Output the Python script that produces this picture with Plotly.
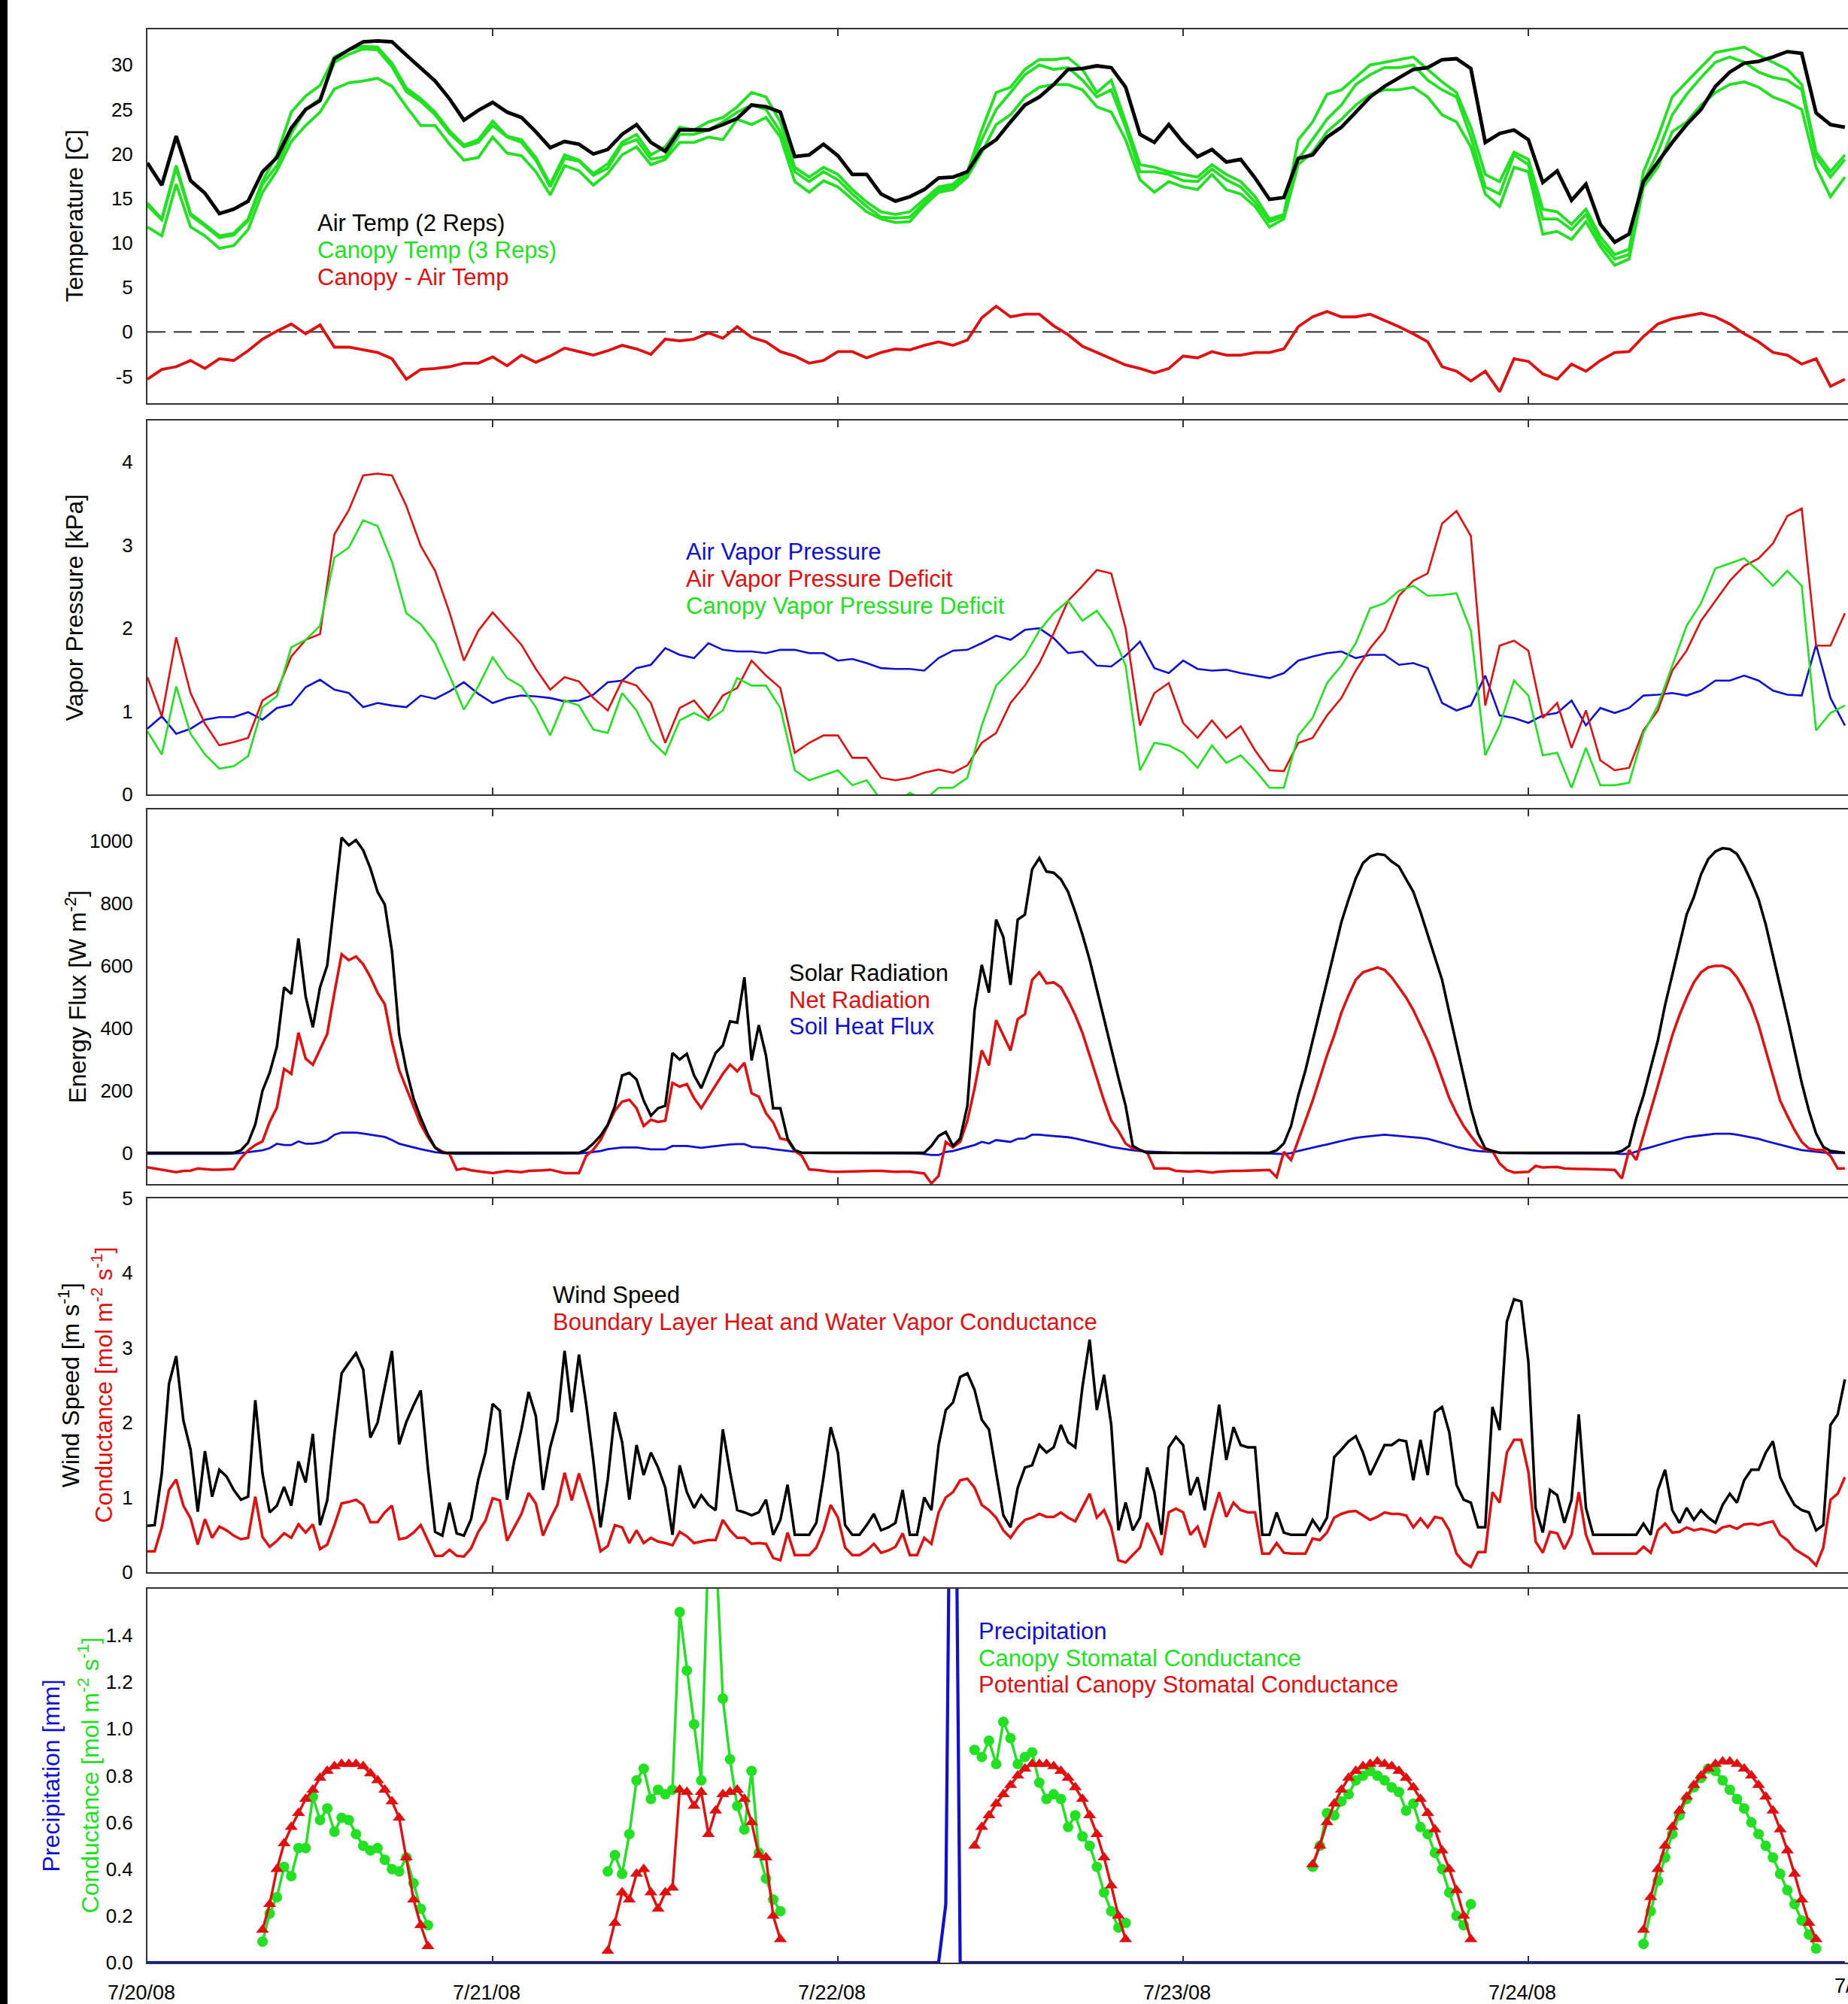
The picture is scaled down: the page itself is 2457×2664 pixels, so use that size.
import pandas as pd
import plotly.graph_objects as go

# ---------------------------------------------------------------- time axis
T0 = "2008-07-20 00:00"
T_END = "2008-07-24 22:13"
day_ticks = ["2008-07-20", "2008-07-21", "2008-07-22", "2008-07-23", "2008-07-24"]
day_labels = ["7/20/08", "7/21/08", "7/22/08", "7/23/08", "7/24/08"]
next_day_label = "7/25/08"

# ---------------------------------------------------------------- panel 1: temperature [C], hourly
air_temp = [
    19.0, 16.5, 22.0, 17.0, 15.6, 13.3, 13.8, 14.7, 18.0, 19.6,
    22.9, 25.0, 26.0, 30.7, 31.7, 32.6, 32.7, 32.6, 31.1, 29.7,
    28.2, 26.2, 23.8, 24.9, 25.8, 24.7, 24.1, 22.5, 20.7, 21.4,
    21.1, 20.0, 20.5, 22.2, 23.3, 21.3, 20.3, 22.7, 22.7, 22.7,
    23.3, 24.0, 25.5, 25.3, 24.7, 19.7, 19.9, 21.1, 19.8, 17.7,
    17.7, 15.5, 14.7, 15.2, 16.0, 17.3, 17.4, 18.0, 20.5, 21.6,
    23.6, 25.5, 26.4, 27.8, 29.5, 29.6, 29.9, 29.7, 27.5, 22.2,
    21.3, 23.3, 21.3, 19.7, 20.5, 19.1, 19.4, 17.3, 14.9, 15.1,
    19.5, 19.9, 21.9, 23.0, 24.7, 26.4, 27.6, 28.6, 29.5, 29.7,
    30.6, 30.7, 29.6, 21.3, 22.3, 22.7, 21.6, 16.8, 18.1, 14.8,
    16.6, 12.1, 10.1, 11.0, 16.9, 19.1, 21.3, 23.3, 25.0, 27.6,
    29.2, 30.2, 30.4, 30.9, 31.5, 31.3, 24.6, 23.3, 23.0]
canopy_temp_1 = [
    14.5, 12.7, 18.7, 13.3, 12.1, 10.8, 11.1, 12.7, 17.0, 19.9,
    24.7, 26.5, 27.7, 30.9, 31.7, 32.1, 32.0, 30.2, 27.4, 26.2,
    24.7, 22.6, 21.0, 21.6, 23.7, 22.0, 21.6, 19.6, 16.6, 19.9,
    19.3, 17.8, 18.9, 21.3, 22.2, 19.9, 20.8, 23.0, 22.7, 23.6,
    24.1, 25.3, 26.9, 26.4, 23.6, 18.5, 17.4, 18.5, 17.7, 16.0,
    14.6, 13.5, 13.2, 13.5, 14.9, 16.3, 16.6, 18.0, 22.7, 26.9,
    27.5, 29.5, 30.6, 30.6, 30.8, 29.5, 26.9, 28.3, 23.6, 18.8,
    18.5, 18.0, 17.7, 17.4, 18.8, 17.7, 16.9, 15.2, 12.7, 13.2,
    21.6, 23.6, 26.7, 27.2, 28.6, 30.0, 30.3, 30.6, 30.9, 29.5,
    28.1, 26.9, 23.0, 17.7, 16.9, 20.2, 19.4, 13.8, 13.5, 12.1,
    13.8, 10.7, 8.7, 9.3, 18.0, 21.9, 26.4, 28.1, 29.7, 31.4,
    31.7, 32.0, 31.1, 30.3, 29.5, 27.8, 20.2, 18.0, 19.9]
canopy_temp_2 = [
    14.2, 12.6, 18.4, 13.1, 11.9, 10.6, 10.9, 12.5, 16.6, 18.7,
    22.3, 25.0, 26.2, 30.3, 31.2, 31.8, 31.7, 29.8, 27.0, 25.9,
    24.4, 22.3, 20.8, 21.3, 23.2, 21.9, 21.3, 19.3, 16.3, 19.5,
    19.2, 17.6, 18.4, 21.0, 21.6, 19.4, 19.7, 22.2, 22.2, 22.7,
    23.6, 24.7, 25.5, 25.0, 22.5, 18.0, 16.9, 18.0, 17.1, 15.5,
    14.1, 12.9, 12.8, 12.9, 14.5, 16.0, 16.3, 17.7, 21.6, 25.0,
    26.9, 28.9, 30.0, 29.5, 29.7, 28.3, 26.4, 27.2, 23.0, 18.0,
    18.0, 17.7, 17.0, 16.9, 18.3, 17.1, 16.3, 14.6, 12.4, 13.0,
    19.4, 21.6, 23.9, 25.5, 27.8, 28.9, 29.7, 29.7, 30.0, 28.3,
    27.2, 26.4, 21.9, 16.3, 15.5, 19.9, 18.8, 12.7, 12.7, 11.5,
    13.2, 10.1, 8.2, 8.7, 16.9, 20.2, 24.4, 26.7, 28.6, 30.3,
    30.9, 30.3, 29.2, 28.6, 28.3, 27.2, 19.7, 17.4, 19.4]
canopy_temp_3 = [
    11.8, 10.8, 16.6, 11.8, 10.8, 9.4, 9.7, 11.5, 15.7, 18.1,
    21.4, 23.2, 24.7, 27.3, 28.0, 28.2, 28.5, 27.6, 25.3, 23.2,
    23.2, 21.1, 19.3, 19.6, 21.9, 20.1, 19.8, 18.0, 15.4, 18.7,
    18.1, 16.5, 17.8, 19.9, 20.8, 18.8, 19.4, 21.3, 21.3, 21.9,
    21.6, 23.9, 23.3, 24.1, 21.9, 16.9, 15.7, 17.0, 16.3, 14.9,
    13.5, 12.7, 12.3, 12.4, 14.2, 15.7, 16.0, 17.4, 20.2, 23.3,
    24.4, 26.4, 27.5, 27.8, 27.8, 27.2, 25.3, 24.7, 21.6, 17.1,
    15.7, 16.9, 16.3, 16.0, 17.7, 16.0, 15.5, 14.1, 11.8, 12.7,
    18.8, 20.2, 22.5, 23.9, 25.5, 26.7, 27.2, 27.2, 27.5, 26.4,
    24.4, 23.6, 20.8, 15.5, 14.1, 18.5, 18.0, 11.0, 11.3, 10.4,
    12.4, 9.6, 7.5, 8.2, 16.3, 18.5, 22.5, 23.6, 25.5, 26.9,
    27.8, 28.1, 27.5, 26.4, 25.8, 25.0, 18.5, 15.2, 17.4]
canopy_minus_air = [
    -5.3, -4.2, -3.9, -3.2, -4.1, -3.0, -3.2, -2.1, -0.8, 0.1,
    0.9, -0.2, 0.8, -1.7, -1.7, -2.0, -2.3, -3.0, -5.3, -4.2,
    -4.1, -3.9, -3.5, -3.5, -2.8, -3.8, -2.6, -3.4, -2.7, -1.8,
    -2.2, -2.6, -2.1, -1.5, -1.9, -2.5, -0.8, -1.0, -0.8, -0.1,
    -0.7, 0.6, -0.6, -1.1, -2.2, -2.7, -3.5, -3.2, -2.2, -2.2,
    -2.9, -2.3, -1.9, -2.0, -1.5, -1.1, -1.5, -0.9, 1.6, 2.9,
    1.7, 2.0, 2.0, 0.7, -0.3, -1.6, -2.3, -3.0, -3.7, -4.1,
    -4.6, -4.1, -2.7, -2.9, -2.2, -2.6, -2.6, -2.3, -2.3, -1.9,
    0.6, 1.7, 2.3, 1.7, 1.7, 2.0, 1.3, 0.6, -0.2, -1.1,
    -3.9, -4.4, -5.5, -4.4, -6.7, -3.0, -3.3, -4.7, -5.3, -3.6,
    -4.4, -3.2, -2.3, -2.2, -0.5, 0.9, 1.5, 1.8, 2.1, 1.7,
    0.9, -0.2, -1.1, -2.3, -2.6, -3.6, -3.0, -6.1, -5.3]

# ---------------------------------------------------------------- panel 2: vapour pressure [kPa], hourly
air_vp = [
    0.79, 0.94, 0.73, 0.79, 0.90, 0.93, 0.93, 0.99, 0.90, 1.04,
    1.08, 1.29, 1.38, 1.26, 1.22, 1.05, 1.10, 1.07, 1.05, 1.19,
    1.15, 1.24, 1.35, 1.21, 1.10, 1.16, 1.19, 1.18, 1.16, 1.12,
    1.13, 1.20, 1.35, 1.37, 1.52, 1.56, 1.76, 1.68, 1.64, 1.82,
    1.74, 1.72, 1.72, 1.70, 1.74, 1.74, 1.70, 1.70, 1.61, 1.63,
    1.58, 1.52, 1.51, 1.51, 1.49, 1.64, 1.73, 1.74, 1.82, 1.91,
    1.86, 1.98, 2.00, 1.88, 1.70, 1.72, 1.55, 1.54, 1.67, 1.84,
    1.52, 1.46, 1.61, 1.51, 1.49, 1.50, 1.46, 1.43, 1.40, 1.46,
    1.61, 1.66, 1.70, 1.72, 1.64, 1.68, 1.68, 1.56, 1.58, 1.52,
    1.10, 1.01, 1.07, 1.43, 0.95, 0.92, 0.86, 0.95, 0.98, 1.13,
    0.83, 1.04, 0.98, 1.04, 1.19, 1.20, 1.22, 1.19, 1.25, 1.37,
    1.37, 1.43, 1.37, 1.25, 1.20, 1.19, 1.80, 1.16, 0.83]
air_vpd = [
    1.41, 0.94, 1.89, 1.22, 0.85, 0.59, 0.63, 0.68, 1.13, 1.24,
    1.66, 1.86, 1.93, 3.13, 3.42, 3.84, 3.86, 3.84, 3.47, 2.99,
    2.69, 2.19, 1.61, 1.97, 2.19, 2.00, 1.80, 1.51, 1.26, 1.41,
    1.36, 1.16, 1.01, 1.37, 1.31, 1.10, 0.62, 1.04, 1.13, 0.92,
    1.19, 1.28, 1.61, 1.43, 1.28, 0.50, 0.62, 0.71, 0.71, 0.44,
    0.44, 0.20, 0.17, 0.20, 0.26, 0.30, 0.26, 0.35, 0.62, 0.74,
    1.10, 1.31, 1.58, 1.94, 2.33, 2.51, 2.70, 2.66, 2.00, 0.83,
    1.22, 1.34, 0.86, 0.68, 0.89, 0.68, 0.82, 0.53, 0.29, 0.28,
    0.62, 0.68, 0.95, 1.16, 1.49, 1.76, 1.97, 2.39, 2.57, 2.66,
    3.26, 3.41, 3.11, 1.07, 1.79, 1.85, 1.73, 0.92, 1.10, 0.56,
    1.01, 0.41, 0.29, 0.32, 0.77, 1.01, 1.49, 1.73, 2.09, 2.33,
    2.57, 2.75, 2.84, 3.02, 3.35, 3.44, 1.79, 1.79, 2.18]
canopy_vpd = [
    0.76, 0.48, 1.30, 0.73, 0.48, 0.31, 0.34, 0.46, 1.05, 1.18,
    1.77, 1.86, 2.03, 2.85, 2.97, 3.30, 3.23, 2.80, 2.18, 2.05,
    1.82, 1.43, 1.02, 1.30, 1.65, 1.40, 1.30, 1.05, 0.71, 1.13,
    1.07, 0.78, 0.74, 1.22, 1.01, 0.65, 0.48, 0.89, 0.98, 0.89,
    1.01, 1.40, 1.31, 1.31, 1.04, 0.29, 0.17, 0.23, 0.29, 0.11,
    0.17, -0.07, -0.10, 0.02, -0.07, 0.08, 0.08, 0.20, 0.83, 1.31,
    1.49, 1.67, 1.97, 2.18, 2.33, 2.09, 2.21, 1.97, 1.55, 0.29,
    0.62, 0.59, 0.50, 0.32, 0.59, 0.38, 0.47, 0.29, 0.08, 0.08,
    0.71, 0.92, 1.34, 1.55, 1.82, 2.24, 2.30, 2.45, 2.51, 2.39,
    2.40, 2.42, 1.97, 0.47, 0.83, 1.37, 1.19, 0.47, 0.50, 0.08,
    0.56, 0.11, 0.11, 0.14, 0.74, 1.07, 1.55, 2.03, 2.30, 2.72,
    2.78, 2.84, 2.69, 2.51, 2.69, 2.51, 0.77, 0.98, 1.07]

# ---------------------------------------------------------------- panel 3: energy flux [W m-2], half-hourly
solar_rad = [
    0, 0, 0, 0, 0, 0, 0, 0, 0, 0, 0, 0, 0,
    8, 33, 91, 199, 257, 340, 530, 509, 687, 501, 402, 530, 600, 811, 1010, 985,
    1002, 969, 911, 836, 795, 646, 381, 265, 174, 112, 58, 17, 0,
    0, 0, 0, 0, 0, 0, 0, 0, 0, 0, 0, 0, 0, 0, 0, 0, 0, 0, 0,
    10, 30, 55, 90, 150, 248, 256, 235, 167, 119, 143, 151, 320, 299, 317, 248,
    207, 264, 320, 344, 421, 417, 562, 296, 409, 312, 143, 143, 46, 9, 0,
    0, 0, 0, 0, 0, 0, 0, 0, 0, 0, 0, 0, 0, 0, 0, 0, 0,
    22, 54, 67, 22, 46, 151, 457, 602, 513, 747, 691, 538, 747, 763, 908, 944,
    901, 897, 876, 836, 771, 699, 618, 522, 425, 328, 240, 151, 22, 9, 0,
    0, 0, 0, 0, 0, 0, 0, 0, 0, 0, 0, 0, 0, 0, 0, 0, 0,
    8, 30, 86, 183, 264, 360, 457, 554, 650, 739, 812, 879, 928, 949, 957, 954,
    933, 917, 876, 836, 771, 699, 626, 554, 449, 344, 248, 143, 62, 14, 6, 0,
    0, 0, 0, 0, 0, 0, 0, 0, 0, 0, 0, 0, 0, 0, 0, 0,
    6, 22, 111, 183, 272, 360, 473, 570, 675, 763, 819, 892, 941, 965, 976, 973,
    957, 917, 868, 812, 731, 634, 529, 433, 328, 224, 135, 62, 19, 6, 3, 0]
net_rad = [
    -46, -50, -54, -58, -62, -58, -57, -50, -53, -54, -54, -52, -52,
    -17, 8, 25, 37, 99, 145, 269, 253, 385, 302, 282, 331, 381, 513, 636, 617,
    629, 604, 563, 513, 476, 356, 265, 207, 149, 91, 50, 17, 4,
    -4, -54, -50, -56, -58, -62, -65, -62, -58, -60, -62, -58, -58, -56, -54, -60, -65, -65, -65,
    -10, 10, 41, 86, 135, 164, 170, 143, 86, 106, 99, 103, 224, 212, 220, 175,
    143, 180, 215, 253, 283, 261, 288, 191, 180, 127, 98, 46, 41, 6, -10,
    -53, -55, -58, -60, -61, -60, -60, -59, -58, -58, -58, -60, -61, -60, -60, -63, -66,
    -98, -74, 35, 18, 35, 103, 207, 328, 280, 425, 376, 328, 428, 444, 554, 578,
    543, 546, 530, 489, 441, 384, 312, 240, 167, 103, 70, 30, 14, 9, 1,
    -50, -50, -50, -58, -60, -60, -58, -60, -63, -60, -58, -58, -58, -57, -57, -56, -55,
    -78, 3, -23, 38, 103, 167, 240, 312, 376, 449, 505, 554, 578, 586, 594, 586,
    562, 530, 497, 457, 409, 360, 304, 240, 175, 127, 86, 54, 25, 9, 6, -34,
    -55, -63, -63, -61, -42, -47, -46, -45, -50, -52, -52, -52, -53, -53, -54, -55,
    -82, 9, -23, 54, 135, 215, 296, 376, 441, 497, 546, 578, 594, 599, 599, 589,
    562, 522, 473, 409, 328, 248, 167, 119, 73, 35, 14, 9, 9, -10, -50, -50]
soil_heat_flux = [
    -3, -3, -3, -4, -4, -4, -3, -3, -3, -3, -3, -3, -2,
    -1, 2, 5, 8, 15, 29, 25, 25, 37, 29, 29, 33, 41, 58, 65, 65,
    65, 62, 58, 54, 51, 41, 29, 23, 17, 12, 7, 2, 0,
    -2, -3, -3, -3, -3, -3, -3, -3, -3, -3, -3, -3, -3, -3, -3, -3, -3, -3, -2,
    0, 3, 6, 12, 15, 17, 17, 17, 14, 11, 11, 11, 22, 22, 22, 19,
    16, 19, 22, 25, 27, 28, 28, 19, 18, 16, 12, 9, 6, 4, 1,
    0, -1, -1, -1, -1, -1, -1, -1, -1, -1, -1, -1, -1, -1, -1, -2, -4,
    -7, -7, 3, 6, 12, 19, 25, 35, 30, 41, 38, 35, 45, 46, 58, 58,
    56, 54, 52, 50, 46, 41, 36, 30, 25, 19, 15, 11, 8, 6, 4,
    3, 2, 1, -1, -1, -1, -1, -1, -1, -1, -1, -1, -1, -1, -1, -1, -2,
    -3, -4, -1, 6, 11, 17, 22, 27, 33, 38, 43, 48, 51, 54, 56, 58,
    56, 54, 53, 51, 48, 45, 39, 33, 26, 19, 14, 9, 6, 4, 2, 1,
    -1, -1, -1, -1, -1, -1, -1, -1, -1, -1, -1, -1, -1, -1, -1, -2,
    -4, -3, 4, 12, 18, 25, 31, 38, 44, 50, 53, 56, 59, 61, 61, 61,
    58, 54, 50, 45, 38, 32, 25, 19, 14, 9, 6, 3, 1, 0, -1, -1]

# ---------------------------------------------------------------- panel 4: wind [m s-1] and g_bl [mol m-2 s-1], half-hourly
wind_speed = [
    0.62, 0.63, 1.32, 2.52, 2.89, 2.03, 1.64, 0.81, 1.62, 1.01,
    1.37, 1.28, 1.10, 0.97, 1.01, 2.30, 1.32, 0.80, 0.89, 1.14,
    0.89, 1.48, 1.20, 1.85, 0.63, 0.96, 1.85, 2.66, 2.80, 2.93,
    2.71, 1.80, 2.00, 2.46, 2.96, 1.71, 2.01, 2.23, 2.43, 1.39,
    0.54, 0.49, 0.93, 0.52, 0.49, 0.71, 1.24, 1.60, 2.25, 2.16,
    0.97, 1.49, 1.91, 2.41, 2.09, 1.10, 1.67, 2.03, 2.96, 2.14,
    2.91, 2.25, 1.49, 0.60, 1.24, 2.14,
    1.74, 0.97, 1.70, 1.30, 1.60, 1.40, 1.13, 0.50, 1.43, 1.07,
    0.86, 1.03, 0.90, 0.83, 1.91, 1.34, 0.83, 0.80, 0.76, 0.80,
    0.97, 0.50, 0.70, 1.17, 0.50, 0.50, 0.50, 0.66, 1.27, 1.94,
    1.60, 0.63, 0.50, 0.50, 0.63, 0.78, 0.56, 0.60, 0.66, 1.10,
    0.50, 0.50, 1.00, 0.83, 1.70, 2.17, 2.27, 2.61, 2.66, 2.44,
    2.04, 1.91, 1.34, 0.76, 0.60, 1.13, 1.40, 1.43, 1.70, 1.60,
    1.67, 1.97, 1.74, 1.67, 2.48, 3.11, 2.17, 2.64, 1.97, 0.56,
    0.93, 0.56, 0.73, 1.40, 1.07, 0.50, 1.67, 1.81, 1.70, 1.03,
    1.27, 0.83, 1.54, 2.24, 1.50,
    1.94, 1.70, 1.67, 1.67, 0.50, 0.50, 0.80, 0.53, 0.50, 0.50,
    0.50, 0.70, 0.56, 0.73, 1.54, 1.64, 1.75, 1.82, 1.60, 1.30,
    1.50, 1.70, 1.70, 1.77, 1.75, 1.23, 1.77, 1.30, 2.14, 2.21,
    1.87, 1.17, 0.97, 0.93, 0.60, 0.60, 2.21, 1.90, 3.35, 3.65,
    3.62, 2.81, 0.86, 0.53, 1.10, 1.03, 0.66, 0.97, 2.11, 0.86,
    0.50, 0.50, 0.50, 0.50, 0.50, 0.50, 0.50, 0.65, 0.50, 1.10,
    1.37, 0.83, 0.66, 0.86, 0.70, 0.83, 0.73, 0.66, 0.90, 1.05,
    0.93, 1.23, 1.37, 1.37, 1.60, 1.75, 1.27, 1.07, 0.90, 0.83,
    0.80, 0.56, 0.63, 1.97, 2.11, 2.58]
bl_conductance = [
    0.28, 0.28, 0.60, 1.10, 1.24, 0.89, 0.72, 0.37, 0.71, 0.46,
    0.61, 0.56, 0.49, 0.44, 0.46, 1.01, 0.47, 0.34, 0.42, 0.52,
    0.46, 0.64, 0.53, 0.64, 0.31, 0.37, 0.63, 0.92, 0.94, 0.97,
    0.90, 0.67, 0.67, 0.80, 0.89, 0.44, 0.46, 0.53, 0.63, 0.42,
    0.22, 0.22, 0.30, 0.22, 0.21, 0.32, 0.54, 0.69, 0.99, 0.96,
    0.42, 0.60, 0.78, 1.06, 0.92, 0.49, 0.71, 0.90, 1.33, 0.96,
    1.32, 1.01, 0.69, 0.28, 0.35, 0.63,
    0.60, 0.39, 0.56, 0.39, 0.46, 0.41, 0.39, 0.36, 0.54, 0.48,
    0.39, 0.41, 0.43, 0.43, 0.70, 0.56, 0.46, 0.46, 0.38, 0.39,
    0.38, 0.19, 0.16, 0.53, 0.23, 0.23, 0.23, 0.33, 0.56, 0.90,
    0.73, 0.33, 0.23, 0.23, 0.29, 0.38, 0.26, 0.29, 0.34, 0.52,
    0.23, 0.23, 0.46, 0.38, 0.80, 1.00, 1.07, 1.23, 1.25, 1.13,
    0.90, 0.83, 0.73, 0.56, 0.46, 0.60, 0.70, 0.73, 0.78, 0.74,
    0.74, 0.80, 0.73, 0.68, 0.86, 1.05, 0.73, 0.83, 0.60, 0.16,
    0.13, 0.23, 0.33, 0.66, 0.46, 0.23, 0.80, 0.85, 0.80, 0.50,
    0.61, 0.33, 0.73, 1.07, 0.74,
    0.93, 0.83, 0.80, 0.80, 0.25, 0.25, 0.39, 0.26, 0.25, 0.25,
    0.25, 0.45, 0.43, 0.53, 0.73, 0.78, 0.81, 0.82, 0.76, 0.70,
    0.74, 0.80, 0.78, 0.78, 0.76, 0.60, 0.72, 0.60, 0.74, 0.72,
    0.56, 0.25, 0.13, 0.07, 0.27, 0.27, 1.07, 0.93, 1.60, 1.77,
    1.77, 1.34, 0.41, 0.26, 0.54, 0.52, 0.31, 0.50, 1.07, 0.50,
    0.25, 0.25, 0.25, 0.25, 0.25, 0.25, 0.25, 0.34, 0.26, 0.56,
    0.65, 0.53, 0.54, 0.60, 0.56, 0.58, 0.56, 0.53, 0.60, 0.62,
    0.58, 0.64, 0.65, 0.63, 0.66, 0.68, 0.50, 0.43, 0.31, 0.25,
    0.19, 0.09, 0.33, 0.97, 1.05, 1.27]

# ---------------------------------------------------------------- panel 5: stomatal conductance, half-hourly daytime
gs_canopy_start = ["2008-07-20 08:00", "2008-07-21 08:00", "2008-07-22 09:30",
                   "2008-07-23 09:00", "2008-07-24 08:00"]
gs_canopy = [
    [0.09, 0.21, 0.28, 0.41, 0.37, 0.49, 0.49, 0.71, 0.61, 0.66, 0.56, 0.62,
     0.61, 0.55, 0.50, 0.48, 0.49, 0.44, 0.40, 0.39, 0.45, 0.34, 0.23, 0.16],
    [0.39, 0.46, 0.38, 0.55, 0.78, 0.83, 0.70, 0.74, 0.72, 0.74, 1.50, 1.25,
     1.02, 0.78, 1.80, 1.80, 1.13, 0.87, 0.67, 0.57, 0.82, 0.47, 0.36, 0.27, 0.22],
    [0.91, 0.88, 0.95, 0.85, 1.03, 0.96, 0.85, 0.88, 0.90, 0.77, 0.70, 0.72,
     0.70, 0.58, 0.63, 0.54, 0.50, 0.41, 0.30, 0.22, 0.15, 0.17],
    [0.41, 0.50, 0.64, 0.63, 0.69, 0.72, 0.78, 0.80, 0.82, 0.80, 0.78, 0.75,
     0.73, 0.65, 0.68, 0.58, 0.55, 0.47, 0.40, 0.30, 0.20, 0.16, 0.25],
    [0.08, 0.22, 0.35, 0.45, 0.55, 0.63, 0.70, 0.75, 0.79, 0.83, 0.82, 0.78,
     0.74, 0.70, 0.66, 0.60, 0.55, 0.50, 0.45, 0.38, 0.31, 0.25, 0.18, 0.12, 0.06],
]
gs_potential_start = ["2008-07-20 08:00", "2008-07-21 08:00", "2008-07-22 09:30",
                      "2008-07-23 09:00", "2008-07-24 08:00"]
gs_potential = [
    [0.14, 0.25, 0.40, 0.51, 0.58, 0.64, 0.70, 0.74, 0.79, 0.82, 0.84, 0.85,
     0.85, 0.85, 0.84, 0.81, 0.78, 0.74, 0.69, 0.62, 0.45, 0.27, 0.16, 0.07],
    [0.05, 0.17, 0.30, 0.27, 0.38, 0.40, 0.30, 0.23, 0.30, 0.32, 0.74, 0.73,
     0.67, 0.73, 0.55, 0.65, 0.72, 0.73, 0.74, 0.70, 0.60, 0.46, 0.45, 0.20, 0.10],
    [0.50, 0.58, 0.63, 0.68, 0.72, 0.76, 0.80, 0.83, 0.85, 0.85, 0.85, 0.84,
     0.82, 0.79, 0.75, 0.70, 0.63, 0.55, 0.45, 0.33, 0.20, 0.10],
    [0.42, 0.50, 0.60, 0.68, 0.74, 0.79, 0.82, 0.84, 0.85, 0.86, 0.85, 0.84,
     0.82, 0.79, 0.75, 0.70, 0.64, 0.57, 0.48, 0.40, 0.31, 0.20, 0.10],
    [0.14, 0.28, 0.40, 0.50, 0.58, 0.65, 0.71, 0.76, 0.80, 0.83, 0.85, 0.86,
     0.86, 0.85, 0.83, 0.80, 0.76, 0.71, 0.65, 0.57, 0.48, 0.38, 0.27, 0.17, 0.10],
]
precip_time = ["2008-07-20 00:00", "2008-07-22 07:00", "2008-07-22 07:30",
               "2008-07-22 08:00", "2008-07-22 08:30", "2008-07-24 22:00"]
precip_mm = [0, 0, 0.25, 3.6, 0, 0]

# ---------------------------------------------------------------- styling
FONT = "Liberation Sans, Arial, Helvetica, sans-serif"
BLACK = "#000000"
GREEN = "#22e022"
RED = "#e01010"
BLUE = "#1010d0"
AXIS = "#333333"

W, H = 2457, 2664
ML, MR, MT, MB = 196, 0, 39, 50
PW, PH = W - ML - MR, H - MT - MB


def px_x(px):
    return (px - ML) / PW


def px_y(py):
    return (H - MB - py) / PH


def hourly(values):
    return pd.date_range(T0, periods=len(values), freq="h")


def half_hourly(values):
    return pd.date_range(T0, periods=len(values), freq="30min")


def daytime_series(starts, days):
    xs, ys = [], []
    for start, vals in zip(starts, days):
        xs.extend(pd.date_range(start, periods=len(vals), freq="30min"))
        ys.extend(vals)
        xs.append(None)
        ys.append(None)
    return xs, ys


# panel pixel extents (top, bottom)
panels = [(39, 537), (560, 1058), (1078, 1577), (1596, 2094), (2116, 2614)]
y_ranges = [[-8, 34], [0, 4.5], [-100, 1100], [0, 5], [0, 1.6]]
y_ticks = [[-5, 0, 5, 10, 15, 20, 25, 30], [0, 1, 2, 3, 4],
           [0, 200, 400, 600, 800, 1000], [0, 1, 2, 3, 4, 5],
           [0.0, 0.2, 0.4, 0.6, 0.8, 1.0, 1.2, 1.4]]
y_tick_text = [[str(v) for v in y_ticks[0]], [str(v) for v in y_ticks[1]],
               [str(v) for v in y_ticks[2]], [str(v) for v in y_ticks[3]],
               ["%.1f" % v for v in y_ticks[4]]]

fig = go.Figure()


def line(x, y, color, width, panel, **kw):
    suffix = "" if panel == 1 else str(panel)
    fig.add_trace(go.Scatter(x=x, y=y, mode=kw.pop("mode", "lines"),
                             line=dict(color=color, width=width),
                             xaxis="x" + suffix, yaxis="y" + suffix,
                             showlegend=False, hoverinfo="skip", **kw))


# panel 1
for series in (canopy_temp_1, canopy_temp_2, canopy_temp_3):
    line(hourly(series), series, GREEN, 3.8, 1)
line(hourly(air_temp), air_temp, BLACK, 4.8, 1)
line(hourly(canopy_minus_air), canopy_minus_air, RED, 3.8, 1)

# panel 2
line(hourly(air_vp), air_vp, BLUE, 2.6, 2)
line(hourly(air_vpd), air_vpd, RED, 2.6, 2)
line(hourly(canopy_vpd), canopy_vpd, GREEN, 2.6, 2)

# panel 3
line(half_hourly(soil_heat_flux), soil_heat_flux, BLUE, 2.8, 3)
line(half_hourly(net_rad), net_rad, RED, 3.5, 3)
line(half_hourly(solar_rad), solar_rad, BLACK, 3.5, 3)

# panel 4
line(half_hourly(wind_speed), wind_speed, BLACK, 3.5, 4)
line(half_hourly(bl_conductance), bl_conductance, RED, 3.5, 4)

# panel 5
line(precip_time, precip_mm, BLUE, 4.2, 5)
gx, gy = daytime_series(gs_canopy_start, gs_canopy)
line(gx, gy, GREEN, 3.4, 5, mode="lines+markers",
     marker=dict(symbol="circle", size=14, color=GREEN))
px_, py_ = daytime_series(gs_potential_start, gs_potential)
line(px_, py_, RED, 3.4, 5, mode="lines+markers",
     marker=dict(symbol="triangle-up", size=15, color=RED))

layout = dict(
    width=W, height=H,
    margin=dict(l=ML, r=MR, t=MT, b=MB, pad=0),
    paper_bgcolor="white", plot_bgcolor="white",
    font=dict(family=FONT, size=26, color=BLACK),
    showlegend=False,
)

for i, ((top, bot), yr, tv, tt) in enumerate(zip(panels, y_ranges, y_ticks, y_tick_text), start=1):
    sfx = "" if i == 1 else str(i)
    layout["xaxis" + sfx] = dict(
        domain=[0, 1], anchor="y" + sfx, type="date", range=[T0, T_END],
        showline=True, linecolor=AXIS, linewidth=2, mirror="ticks",
        ticks="inside", ticklen=9, tickwidth=2, tickcolor=AXIS,
        tickvals=day_ticks, ticktext=day_labels, showticklabels=(i == 5),
        tickfont=dict(size=27, color=BLACK), ticklabelstandoff=15,
        ticklabelshift=-8,
        showgrid=False, zeroline=False,
        **({} if i == 1 else {"matches": "x"}))
    layout["yaxis" + sfx] = dict(
        domain=[px_y(bot), px_y(top)], anchor="x" + sfx, range=yr,
        showline=True, linecolor=AXIS, linewidth=2, mirror=False,
        ticks="", tickvals=tv, ticktext=tt, ticklabelstandoff=12,
        tickfont=dict(size=26, color=BLACK),
        showgrid=False, zeroline=False)

fig.update_layout(**layout)

# dashed zero reference in the temperature panel
fig.add_shape(type="line", xref="x domain", yref="y", x0=0, x1=1, y0=0, y1=0,
              line=dict(color=AXIS, width=2, dash="24px,11px"), layer="below")

# dark strip along the left edge of the sheet
fig.add_shape(type="rect", xref="paper", yref="paper",
              x0=px_x(-20), x1=px_x(10), y0=px_y(H + 20), y1=px_y(-20),
              fillcolor="black", line=dict(width=0), layer="above")

annotations = []


def label(x_px, y_px, text, color):
    annotations.append(dict(xref="paper", yref="paper", x=px_x(x_px), y=px_y(y_px),
                            text=text, showarrow=False, xanchor="left", yanchor="middle",
                            font=dict(family=FONT, size=31, color=color)))


def ytitle(x_px, y_px, text, color):
    annotations.append(dict(xref="paper", yref="paper", x=px_x(x_px), y=px_y(y_px),
                            text=text, textangle=-90, showarrow=False,
                            xanchor="center", yanchor="middle",
                            font=dict(family=FONT, size=32, color=color)))


label(420, 297, "Air Temp (2 Reps)", BLACK)
label(420, 333, "Canopy Temp (3 Reps)", GREEN)
label(420, 369, "Canopy - Air Temp", RED)

label(910, 735, "Air Vapor Pressure", BLUE)
label(910, 771, "Air Vapor Pressure Deficit", RED)
label(910, 807, "Canopy Vapor Pressure Deficit", GREEN)

label(1047, 1296, "Solar Radiation", BLACK)
label(1047, 1332, "Net Radiation", RED)
label(1047, 1367, "Soil Heat Flux", BLUE)

label(733, 1725, "Wind Speed", BLACK)
label(733, 1761, "Boundary Layer Heat and Water Vapor Conductance", RED)

label(1299, 2173, "Precipitation", BLUE)
label(1299, 2209, "Canopy Stomatal Conductance", GREEN)
label(1299, 2244, "Potential Canopy Stomatal Conductance", RED)

ytitle(99, 288, "Temperature [C]", BLACK)
ytitle(99, 809, "Vapor Pressure [kPa]", BLACK)
ytitle(101, 1327, "Energy Flux [W m<sup>-2</sup>]", BLACK)
ytitle(92, 1845, "Wind Speed [m s<sup>-1</sup>]", BLACK)
ytitle(136, 1845, "Conductance [mol m<sup>-2</sup> s<sup>-1</sup>]", RED)
ytitle(68, 2365, "Precipitation [mm]", BLUE)
ytitle(118, 2365, "Conductance [mol m<sup>-2</sup> s<sup>-1</sup>]", GREEN)

# the next day's date label, running off the right edge of the sheet
annotations.append(dict(xref="paper", yref="paper", x=px_x(2484), y=px_y(2645),
                        text=next_day_label, showarrow=False,
                        xanchor="center", yanchor="middle",
                        font=dict(family=FONT, size=27, color=BLACK)))

fig.update_layout(annotations=annotations)
fig.write_html("out.html")
